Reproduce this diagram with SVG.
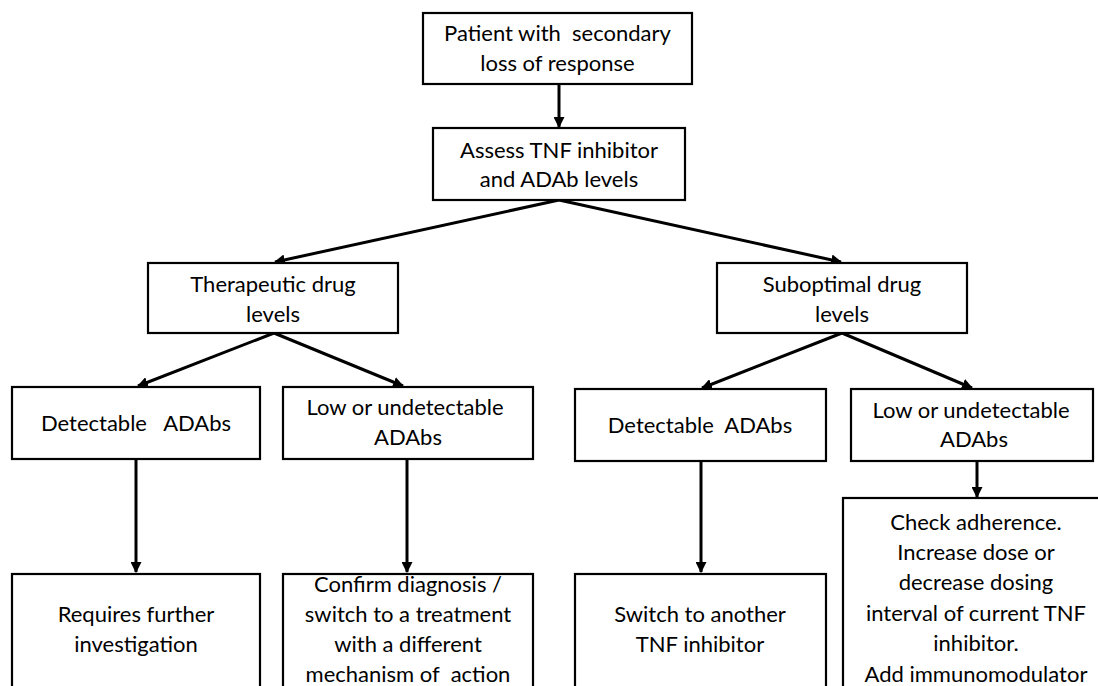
<svg xmlns="http://www.w3.org/2000/svg" width="1098" height="686" viewBox="0 0 1098 686">
  <style>
    .box { fill: #ffffff; stroke: #000000; stroke-width: 2.2; }
    .lbl { font-family: Lato, "Liberation Sans", sans-serif; font-size: 22px; fill: #000000; text-anchor: middle; }
    .edge { stroke: #000000; stroke-width: 3; fill: none; marker-end: url(#head); }
  </style>
  <defs>
    <marker id="head" viewBox="0 0 10 10" refX="9" refY="5" markerUnits="userSpaceOnUse" markerWidth="11" markerHeight="11" orient="auto">
      <path d="M0,0 L10,5 L0,10 z" fill="#000000"/>
    </marker>
  </defs>

  <rect width="1098" height="686" fill="#ffffff"/>

  <!-- connectors -->
  <g id="connectors">
    <line class="edge" x1="559" y1="84" x2="559" y2="127"/>
    <line class="edge" x1="559" y1="200" x2="275" y2="262"/>
    <line class="edge" x1="559" y1="200" x2="841" y2="262"/>
    <line class="edge" x1="274" y1="333" x2="138" y2="386"/>
    <line class="edge" x1="274" y1="333" x2="403" y2="386"/>
    <line class="edge" x1="842" y1="333" x2="702" y2="388"/>
    <line class="edge" x1="842" y1="333" x2="972" y2="388"/>
    <line class="edge" x1="136" y1="459" x2="136" y2="572"/>
    <line class="edge" x1="407" y1="459" x2="407" y2="572"/>
    <line class="edge" x1="701" y1="461" x2="701" y2="572"/>
    <line class="edge" x1="977" y1="461" x2="977" y2="497"/>
  </g>

  <g id="n-patient">
    <rect class="box" x="423" y="13" width="269" height="71"/>
    <text class="lbl" xml:space="preserve" x="557.5" y="41">Patient with  secondary</text>
    <text class="lbl" x="557.5" y="71">loss of response</text>
  </g>

  <g id="n-assess">
    <rect class="box" x="433" y="128" width="252" height="72"/>
    <text class="lbl" x="559" y="158">Assess TNF inhibitor</text>
    <text class="lbl" x="559" y="187">and ADAb levels</text>
  </g>

  <g id="n-therapeutic">
    <rect class="box" x="148" y="263" width="250" height="70"/>
    <text class="lbl" x="273" y="292">Therapeutic drug</text>
    <text class="lbl" x="273" y="322">levels</text>
  </g>

  <g id="n-suboptimal">
    <rect class="box" x="717" y="263" width="250" height="70"/>
    <text class="lbl" x="842" y="292">Suboptimal drug</text>
    <text class="lbl" x="842" y="322">levels</text>
  </g>

  <g id="n-det-left">
    <rect class="box" x="12" y="387" width="248" height="72"/>
    <text class="lbl" xml:space="preserve" x="136" y="431">Detectable   ADAbs</text>
  </g>

  <g id="n-low-left">
    <rect class="box" x="283" y="387" width="250" height="72"/>
    <text class="lbl" x="405" y="415">Low or undetectable</text>
    <text class="lbl" x="408" y="445">ADAbs</text>
  </g>

  <g id="n-det-right">
    <rect class="box" x="575" y="389" width="251" height="72"/>
    <text class="lbl" xml:space="preserve" x="700" y="433">Detectable  ADAbs</text>
  </g>

  <g id="n-low-right">
    <rect class="box" x="851" y="389" width="242" height="72"/>
    <text class="lbl" x="971" y="418">Low or undetectable</text>
    <text class="lbl" x="974" y="447">ADAbs</text>
  </g>

  <g id="n-requires">
    <rect class="box" x="12" y="574" width="248" height="140"/>
    <text class="lbl" x="136" y="622">Requires further</text>
    <text class="lbl" x="136" y="652">investigation</text>
  </g>

  <g id="n-confirm">
    <rect class="box" x="283" y="574" width="250" height="140"/>
    <text class="lbl" x="408" y="592">Confirm diagnosis /</text>
    <text class="lbl" x="408" y="622">switch to a treatment</text>
    <text class="lbl" x="408" y="652">with a different</text>
    <text class="lbl" xml:space="preserve" x="408" y="682">mechanism of  action</text>
  </g>

  <g id="n-switch">
    <rect class="box" x="575" y="574" width="251" height="140"/>
    <text class="lbl" x="700" y="622">Switch to another</text>
    <text class="lbl" x="700" y="652">TNF inhibitor</text>
  </g>

  <g id="n-check">
    <rect class="box" x="843" y="498" width="270" height="210"/>
    <text class="lbl" x="976" y="530">Check adherence.</text>
    <text class="lbl" x="976" y="560">Increase dose or</text>
    <text class="lbl" x="976" y="590">decrease dosing</text>
    <text class="lbl" x="976" y="621">interval of current TNF</text>
    <text class="lbl" x="976" y="651">inhibitor.</text>
    <text class="lbl" x="976" y="682">Add immunomodulator</text>
  </g>
</svg>
